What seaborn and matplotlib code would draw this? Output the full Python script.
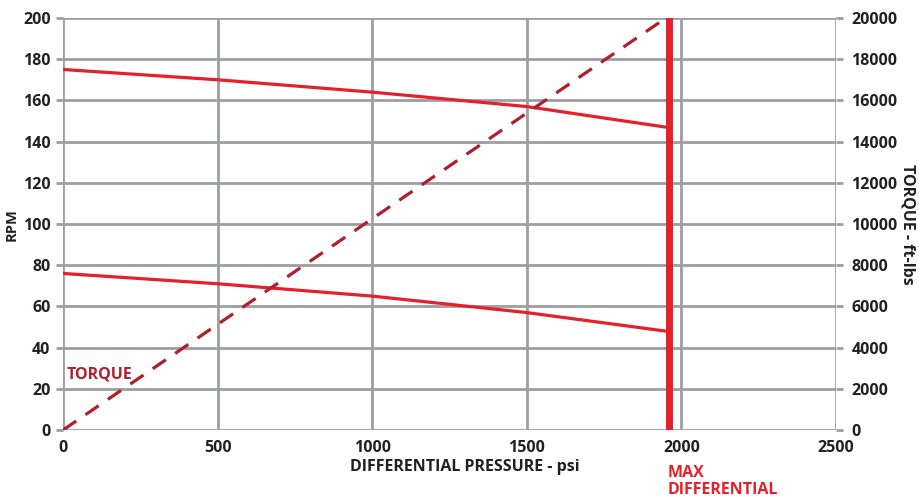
import matplotlib
matplotlib.use("Agg")
import matplotlib.pyplot as plt
import seaborn as sns
import pandas as pd

sns.set_theme(style="white")
plt.rcParams['font.family'] = ['Open Sans', 'DejaVu Sans']

# Data
pressure = [0, 500, 1000, 1500, 1950]
rpm_high = [175, 170, 164, 157, 147]
rpm_low = [76, 71, 65, 57, 48]
torque_pressure = [0, 1950]
torque = [0, 20000]
max_diff = 1960
x_ticks = [0, 500, 1000, 1500, 2000, 2500]
rpm_ticks = list(range(0, 201, 20))
torque_ticks = list(range(0, 20001, 2000))

RED = "#E5202A"
DARK_RED = "#B01F2C"
GRID = "#9D9EA1"
TXT = "#231F20"
FS = 11.5

fig = plt.figure(figsize=(9.19, 4.98), dpi=100)
ax = fig.add_axes([0.0686, 0.1365, 0.8411, 0.8274])
ax2 = ax.twinx()

df = pd.DataFrame({"p": pressure, "hi": rpm_high, "lo": rpm_low})
sns.lineplot(data=df, x="p", y="hi", ax=ax, color=RED, lw=2.3, zorder=3)
sns.lineplot(data=df, x="p", y="lo", ax=ax, color=RED, lw=2.3, zorder=3)
ax.axvline(max_diff, color=RED, lw=5, zorder=4, ymin=-0.005, ymax=1.0)

tdf = pd.DataFrame({"p": torque_pressure, "t": torque})
sns.lineplot(data=tdf, x="p", y="t", ax=ax2, color=DARK_RED, lw=2.3,
             linestyle=(0, (5, 3.5)), zorder=3)

ax.set_xlim(0, 2500)
ax.set_ylim(0, 200)
ax2.set_ylim(0, 20000)
ax.set_xticks(x_ticks)
ax.set_yticks(rpm_ticks)
ax2.set_yticks(torque_ticks)

ax.grid(True, color=GRID, lw=2)
ax.set_axisbelow(True)
for a in (ax, ax2):
    for s in a.spines.values():
        s.set_visible(False)
    a.tick_params(colors=GRID, width=2, length=5, labelcolor=TXT, labelsize=FS)
ax.tick_params(axis='x', pad=2)
ax.tick_params(axis='y', pad=4)
ax2.tick_params(axis='y', pad=6)
for lab in ax.get_xticklabels() + ax.get_yticklabels() + ax2.get_yticklabels():
    lab.set_fontweight('bold')

ax.set_xlabel("")
ax.set_ylabel("")
ax2.set_ylabel("")

fig.text(0.013, 0.55, "RPM", rotation=90, ha='center', va='center',
         fontsize=10.5, fontweight='bold', color=TXT)
fig.text(0.988, 0.55, "TORQUE - ft-lbs", rotation=270, ha='center', va='center',
         fontsize=FS, fontweight='bold', color=TXT)
fig.text(0.506, 0.063, "DIFFERENTIAL PRESSURE - psi", ha='center', va='center',
         fontsize=FS, fontweight='bold', color=TXT)
fig.text(0.727, 0.033, "MAX\nDIFFERENTIAL", ha='left', va='center',
         fontsize=FS, fontweight='bold', color=RED, linespacing=1.1)
ax.text(12, 27, "TORQUE", ha='left', va='center', fontsize=FS,
        fontweight='bold', color=DARK_RED)

fig.savefig("out.png", dpi=100)
